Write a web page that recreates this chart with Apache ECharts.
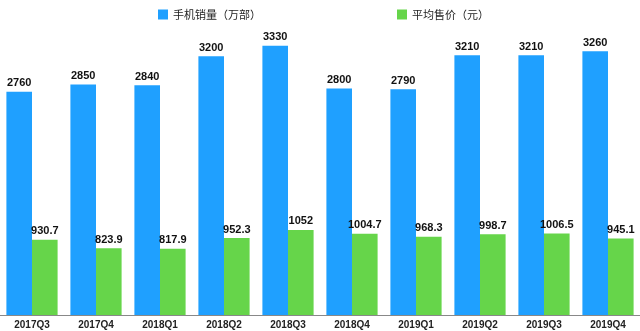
<!DOCTYPE html>
<html>
<head>
<meta charset="utf-8">
<style>
  html, body { margin: 0; padding: 0; background: #fff; }
  #chart { width: 640px; height: 331px; }
</style>
<script src="https://cdn.jsdelivr.net/npm/echarts@6/dist/echarts.min.js"></script>
</head>
<body>
<div id="chart"></div>
<script>
// Quarterly phone shipments and average selling price
const quarters = ['2017Q3', '2017Q4', '2018Q1', '2018Q2', '2018Q3', '2018Q4', '2019Q1', '2019Q2', '2019Q3', '2019Q4'];
const salesVolume = [2760, 2850, 2840, 3200, 3330, 2800, 2790, 3210, 3210, 3260];
const avgPrice = [930.7, 823.9, 817.9, 952.3, 1052, 1004.7, 968.3, 998.7, 1006.5, 945.1];
const seriesNames = ['手机销量（万部）', '平均售价（元）'];

const labelStyle = {
  show: true,
  position: 'top',
  distance: 3,
  color: '#111',
  fontSize: 11,
  fontWeight: 'bold',
  fontFamily: 'Liberation Sans, Arial, sans-serif'
};

const chart = echarts.init(document.getElementById('chart'), null, { renderer: 'canvas' });
chart.setOption({
  animation: false,
  backgroundColor: '#fff',
  legend: {
    top: 4,
    left: 153,
    itemWidth: 10,
    itemHeight: 10,
    itemGap: 136,
    icon: 'rect',
    textStyle: { color: '#222', fontSize: 11, fontFamily: 'Noto Sans CJK SC, sans-serif' },
    data: seriesNames
  },
  grid: { left: 0, right: 0, top: 40, bottom: 16, containLabel: false },
  xAxis: {
    type: 'category',
    data: quarters,
    axisLine: { show: true, lineStyle: { color: '#888', width: 1 } },
    axisTick: { show: false },
    axisLabel: {
      color: '#222',
      fontSize: 10,
      fontWeight: 'bold',
      margin: 5,
      fontFamily: 'Liberation Sans, Arial, sans-serif'
    }
  },
  yAxis: {
    type: 'value',
    min: 0,
    max: 3400,
    show: false,
    splitLine: { show: false }
  },
  series: [
    {
      name: seriesNames[0],
      type: 'bar',
      data: salesVolume,
      barGap: '0%',
      barCategoryGap: '20%',
      itemStyle: { color: '#1FA0FF' },
      label: labelStyle
    },
    {
      name: seriesNames[1],
      type: 'bar',
      data: avgPrice,
      itemStyle: { color: '#66D54A' },
      label: labelStyle
    }
  ]
});
</script>
</body>
</html>
